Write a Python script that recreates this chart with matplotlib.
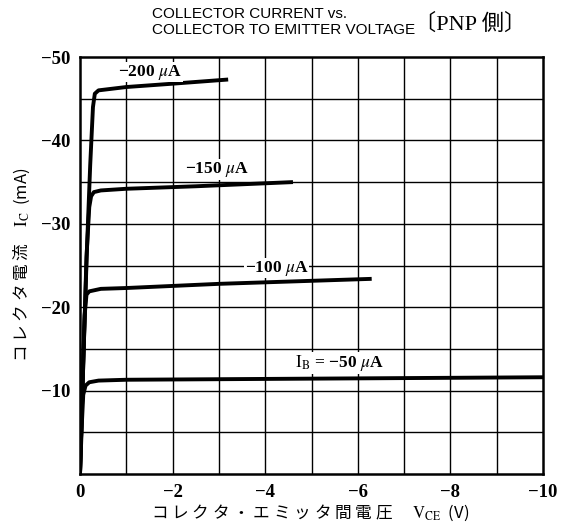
import numpy as np
import matplotlib.pyplot as plt

plt.rcParams['mathtext.fontset'] = 'stix'

# curve data (V_CE in V, I_C in mA)
vce_200 = [0, -0.08, -0.15, -0.22, -0.28, -0.32, -0.4, -1.0, -2.0, -3.2]
ic_200 = [0, -15, -27, -37, -44, -45.6, -46.0, -46.4, -46.8, -47.3]

vce_150 = [0, -0.08, -0.14, -0.2, -0.24, -0.3, -0.45, -1.0, -2.5, -4.6]
ic_150 = [0, -15, -26, -32, -33.3, -33.8, -34.0, -34.2, -34.5, -35.0]

vce_100 = [0, -0.06, -0.1, -0.14, -0.2, -0.45, -1.0, -3.0, -6.3]
ic_100 = [0, -12, -19, -21.5, -21.9, -22.2, -22.3, -22.8, -23.4]

vce_50 = [0, -0.04, -0.07, -0.12, -0.2, -0.4, -1.0, -4.0, -10.0]
ic_50 = [0, -6, -9.5, -10.6, -11.0, -11.2, -11.3, -11.4, -11.6]

curve_labels = ["−200 $\\mu$A", "−150 $\\mu$A", "−100 $\\mu$A",
                "$\\mathrm{I_B}$ = −50 $\\mu$A"]
label_pos = [(-0.82, -48.2), (-2.27, -36.5), (-3.56, -24.7), (-4.64, -13.3)]

x_ticks = [0, -2, -4, -6, -8, -10]
y_ticks = [-10, -20, -30, -40, -50]

jp = ['Noto Sans CJK JP', 'DejaVu Sans']

fig = plt.figure(figsize=(5.74, 5.24), dpi=100)
ax = fig.add_axes([80 / 574, 50 / 524, 463 / 574, 417 / 524])

# grid every 1 V and 5 mA
for v in np.arange(-1, -10, -1):
    ax.axvline(v, color='black', lw=1.0, zorder=1)
for i in np.arange(-5, -50, -5):
    ax.axhline(i, color='black', lw=1.0, zorder=1)

for xs, ys in [(vce_200, ic_200), (vce_150, ic_150), (vce_100, ic_100), (vce_50, ic_50)]:
    ax.plot(xs, ys, color='black', lw=2.8, solid_capstyle='butt', zorder=3)

for txt, (tx, ty) in zip(curve_labels, label_pos):
    ax.text(tx, ty, txt, ha='left', va='center', fontsize=12.5,
            family='Liberation Serif', fontweight='bold', zorder=4,
            bbox=dict(facecolor='white', edgecolor='none', pad=0.5))

ax.set_xlim(0, -10)
ax.set_ylim(0, -50)
ax.set_xticks(x_ticks)
ax.set_yticks(y_ticks)
ax.set_xticklabels(["0" if v == 0 else "−%d" % -v for v in x_ticks],
                   family='Liberation Serif', fontweight='bold', fontsize=13.5)
ax.set_yticklabels(["−%d" % -v for v in y_ticks],
                   family='Liberation Serif', fontweight='bold', fontsize=13.5)
ax.tick_params(length=0, pad=7)
for s in ax.spines.values():
    s.set_linewidth(1.8)

# axis titles
fig.text(310 / 574, 1 - 513 / 524,
         " ".join("コレクタ・エミッタ間電圧") + "　 $\\mathrm{V_{CE}}$  (V)",
         family=jp, fontsize=12, ha='center', va='center')
fig.text(22 / 574, 1 - 265 / 524,
         " ".join("コレクタ電流") + "　$\\mathrm{I_C}$  (mA)",
         family=jp, fontsize=12, ha='center', va='center', rotation=90)

fig.text(152 / 574, 1 - 22 / 524, "COLLECTOR CURRENT vs.\nCOLLECTOR TO EMITTER VOLTAGE",
         family='Liberation Sans', fontsize=11, ha='left', va='center',
         linespacing=1.15)
fig.text(414 / 574, 1 - 24 / 524, "〔PNP 側〕",
         family=['Liberation Serif', 'Noto Sans CJK JP'], fontsize=16,
         ha='left', va='center')

fig.savefig("out.png", dpi=100)
